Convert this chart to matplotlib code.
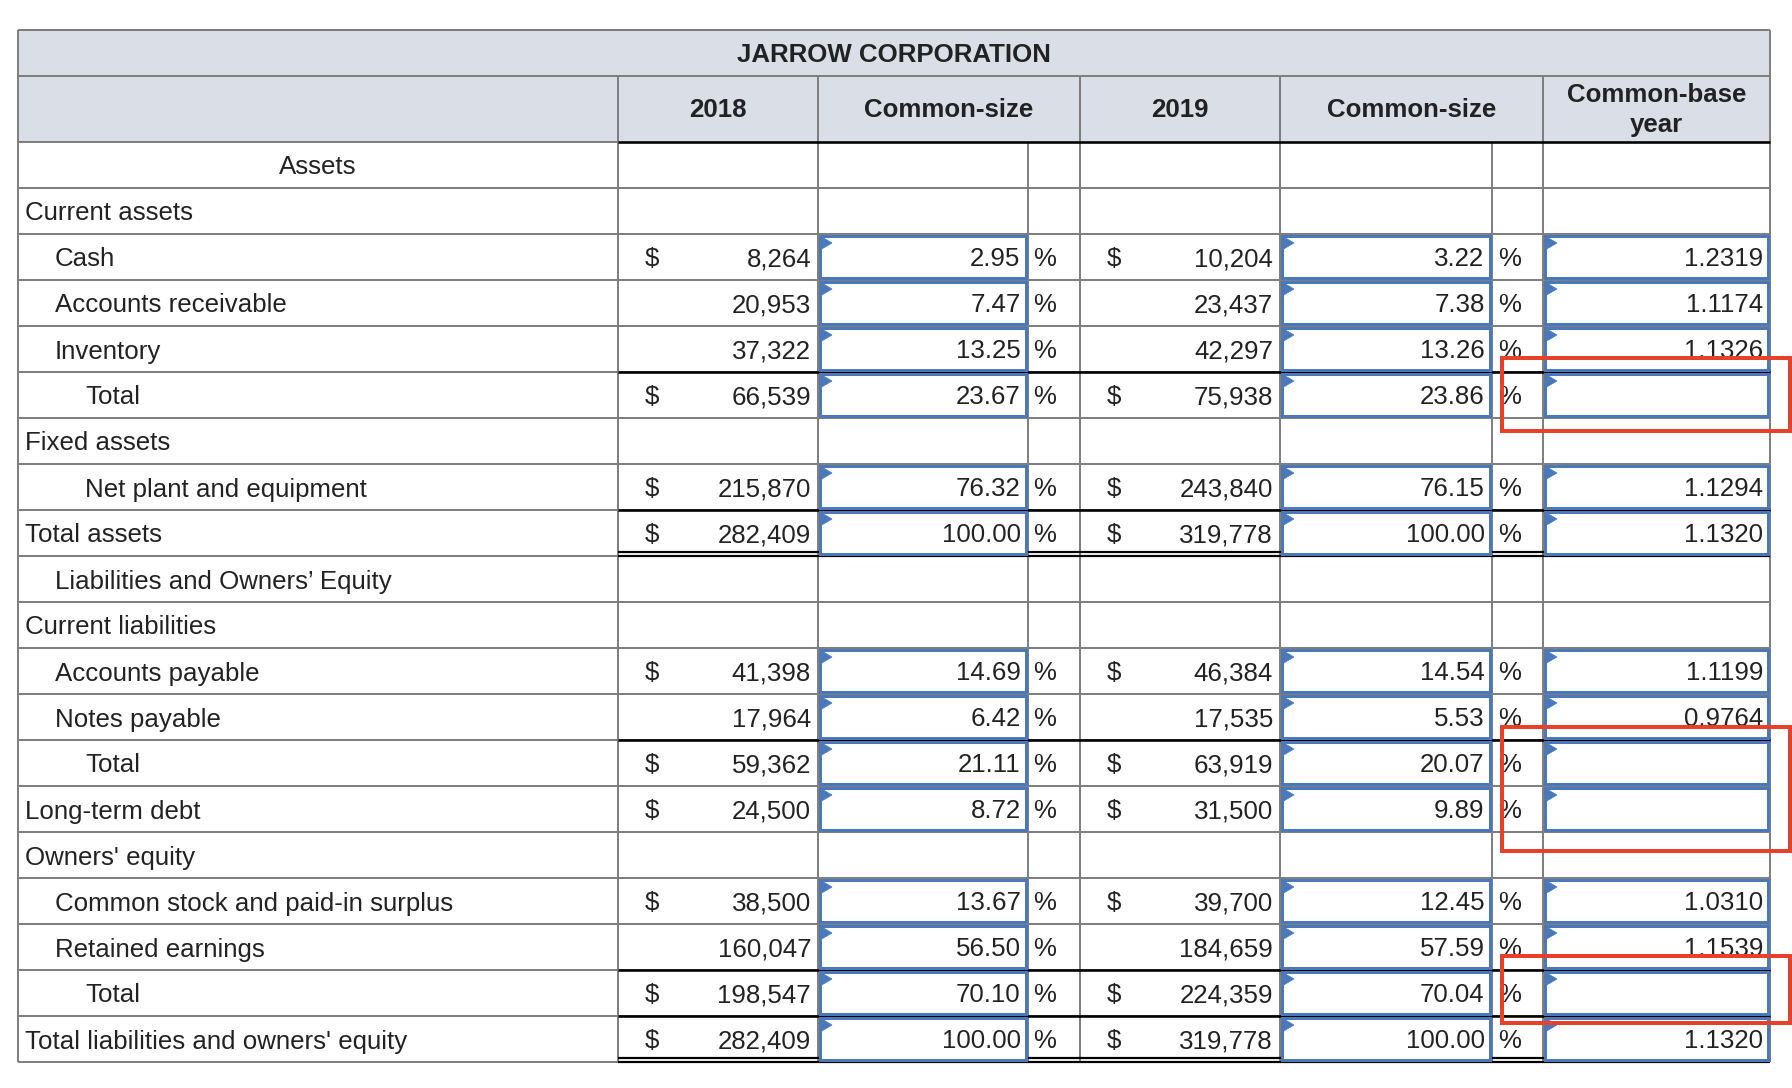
import matplotlib
matplotlib.use("Agg")
import matplotlib.pyplot as plt
from matplotlib.patches import Rectangle, Polygon

plt.rcParams["font.family"] = ["Liberation Sans", "DejaVu Sans"]

# ---- data -------------------------------------------------------------
title = "JARROW CORPORATION"
headers = ["2018", "Common-size", "2019", "Common-size", "Common-base\nyear"]

labels = [
    "Assets", "Current assets", "Cash", "Accounts receivable", "Inventory", "Total",
    "Fixed assets", "Net plant and equipment", "Total assets",
    "Liabilities and Owners\u2019 Equity", "Current liabilities", "Accounts payable",
    "Notes payable", "Total", "Long-term debt", "Owners' equity",
    "Common stock and paid-in surplus", "Retained earnings", "Total",
    "Total liabilities and owners' equity",
]
indent = [-1, 0, 1, 1, 1, 2, 0, 2, 0, 1, 0, 1, 1, 2, 0, 0, 1, 1, 2, 0]

val_2018 = [None, None, 8264, 20953, 37322, 66539, None, 215870, 282409, None, None,
            41398, 17964, 59362, 24500, None, 38500, 160047, 198547, 282409]
cs_2018 = [None, None, 2.95, 7.47, 13.25, 23.67, None, 76.32, 100.00, None, None,
           14.69, 6.42, 21.11, 8.72, None, 13.67, 56.50, 70.10, 100.00]
val_2019 = [None, None, 10204, 23437, 42297, 75938, None, 243840, 319778, None, None,
            46384, 17535, 63919, 31500, None, 39700, 184659, 224359, 319778]
cs_2019 = [None, None, 3.22, 7.38, 13.26, 23.86, None, 76.15, 100.00, None, None,
           14.54, 5.53, 20.07, 9.89, None, 12.45, 57.59, 70.04, 100.00]
base_year = [None, None, 1.2319, 1.1174, 1.1326, None, None, 1.1294, 1.1320, None, None,
             1.1199, 0.9764, None, None, None, 1.0310, 1.1539, None, 1.1320]
dollar = [False, False, True, False, False, True, False, True, True, False, False,
          True, False, True, True, False, True, False, True, True]

total_rows = [5, 8, 13, 18, 19]      # black rule above
double_rows = [8, 19]                # double rule below

# ---- layout (pixels) --------------------------------------------------
W, H = 1792, 1088
x_left, x_lab, x_18, x_cs1, x_p1, x_19, x_cs2, x_p2, x_right = (
    18, 618, 818, 1027.5, 1080, 1280, 1491.5, 1543, 1770)
y_top, y_h1, y_h2, row_h = 30, 75.5, 142, 46
n = len(labels)
y_bot = y_h2 + n * row_h

# red outlines drawn over the answer cells that are missing (pixel extents)
red_boxes = [(1502, 358, 1790, 431), (1502, 727, 1790, 851), (1502, 956, 1790, 1023)]

GRAY = "#7f7f7f"
BLUE = "#4a78b8"
RED = "#e8412b"
HEAD = "#d9dee7"
TXT = "#222222"
FS = 18.6
px = 72 / 100

fig = plt.figure(figsize=(W / 100, H / 100), dpi=100)
ax = fig.add_axes([0, 0, 1, 1])
ax.set_xlim(0, W)
ax.set_ylim(H, 0)
ax.axis("off")

# header background
ax.add_patch(Rectangle((x_left, y_top), x_right - x_left, y_h2 - y_top,
                       facecolor=HEAD, edgecolor="none", zorder=0))
ax.text((x_left + x_right) / 2, (y_top + y_h1) / 2, title, ha="center",
        va="center_baseline", fontsize=FS, fontweight="bold", color=TXT)
hcols = [(x_lab, x_18), (x_18, x_p1), (x_p1, x_19), (x_19, x_p2), (x_p2, x_right)]
for (a, b), h in zip(hcols, headers):
    ax.text((a + b) / 2, (y_h1 + y_h2) / 2 + 1, h, ha="center", va="center",
            fontsize=FS, fontweight="bold", color=TXT, linespacing=1.33)


def hline(y, x0, x1, color=GRAY, w=2.0):
    ax.plot([x0, x1], [y, y], color=color, lw=w * px, solid_capstyle="butt", zorder=2)


def vline(x, y0, y1, color=GRAY, w=2.0):
    ax.plot([x, x], [y0, y1], color=color, lw=w * px, solid_capstyle="butt", zorder=2)


# grid
hline(y_top, x_left, x_right)
hline(y_h1, x_left, x_right)
hline(y_h2, x_left, x_lab)
for i in range(1, n + 1):
    hline(y_h2 + i * row_h, x_left, x_right)
for x in [x_left, x_right]:
    vline(x, y_top, y_bot)
for x in [x_lab, x_18, x_p1, x_19, x_p2]:
    vline(x, y_h1, y_bot)
for x in [x_cs1, x_cs2]:
    vline(x, y_h2, y_bot)

# black rules
hline(y_h2, x_lab, x_right, "black", 2.6)
for r in total_rows:
    hline(y_h2 + r * row_h, x_lab, x_right, "black", 2.6)
for r in double_rows:
    yb = y_h2 + (r + 1) * row_h
    hline(yb, x_lab, x_right, "black", 2.2)
    hline(yb - 4.5, x_lab, x_right, "black", 2.2)


def input_box(x0, x1, yr):
    bx0, by0 = x0 + 2, yr + 2
    ax.add_patch(Rectangle((bx0, by0), x1 - x0 - 4, row_h - 4, facecolor="white",
                           edgecolor=BLUE, lw=3 * px, zorder=3))
    ax.add_patch(Polygon([(bx0, by0), (bx0, by0 + 14), (bx0 + 12, by0 + 7)],
                         closed=True, facecolor=BLUE, edgecolor=BLUE, lw=0.5, zorder=4))


for i, lab in enumerate(labels):
    yr = y_h2 + i * row_h
    yc = yr + row_h / 2
    if indent[i] < 0:
        ax.text((x_left + x_lab) / 2, yc, lab, ha="center", va="center_baseline",
                fontsize=FS, color=TXT)
    else:
        ax.text(x_left + 7 + 30 * indent[i], yc, lab, ha="left", va="center_baseline",
                fontsize=FS, color=TXT)
    if val_2018[i] is None:
        continue
    input_box(x_18, x_cs1, yr)
    input_box(x_19, x_cs2, yr)
    input_box(x_p2, x_right, yr)
    if dollar[i]:
        ax.text(x_lab + 27, yc, "$", ha="left", va="center_baseline", fontsize=FS, color=TXT)
        ax.text(x_p1 + 27, yc, "$", ha="left", va="center_baseline", fontsize=FS, color=TXT)
    ax.text(x_18 - 7, yc, f"{val_2018[i]:,}", ha="right", va="center_baseline",
            fontsize=FS, color=TXT, zorder=5)
    ax.text(x_19 - 7, yc, f"{val_2019[i]:,}", ha="right", va="center_baseline",
            fontsize=FS, color=TXT, zorder=5)
    ax.text(x_cs1 - 7, yc, f"{cs_2018[i]:.2f}", ha="right", va="center_baseline",
            fontsize=FS, color=TXT, zorder=5)
    ax.text(x_cs2 - 7, yc, f"{cs_2019[i]:.2f}", ha="right", va="center_baseline",
            fontsize=FS, color=TXT, zorder=5)
    ax.text(x_cs1 + 6, yc, "%", ha="left", va="center_baseline", fontsize=FS, color=TXT)
    ax.text(x_cs2 + 7, yc, "%", ha="left", va="center_baseline", fontsize=FS, color=TXT)
    if base_year[i] is not None:
        ax.text(x_right - 7, yc, f"{base_year[i]:.4f}", ha="right", va="center_baseline",
                fontsize=FS, color=TXT, zorder=5)

for x0, y0, x1, y1 in red_boxes:
    ax.add_patch(Rectangle((x0, y0), x1 - x0, y1 - y0, facecolor="none",
                           edgecolor=RED, lw=4 * px, zorder=6))

fig.savefig("out.png", dpi=100, facecolor="white")
